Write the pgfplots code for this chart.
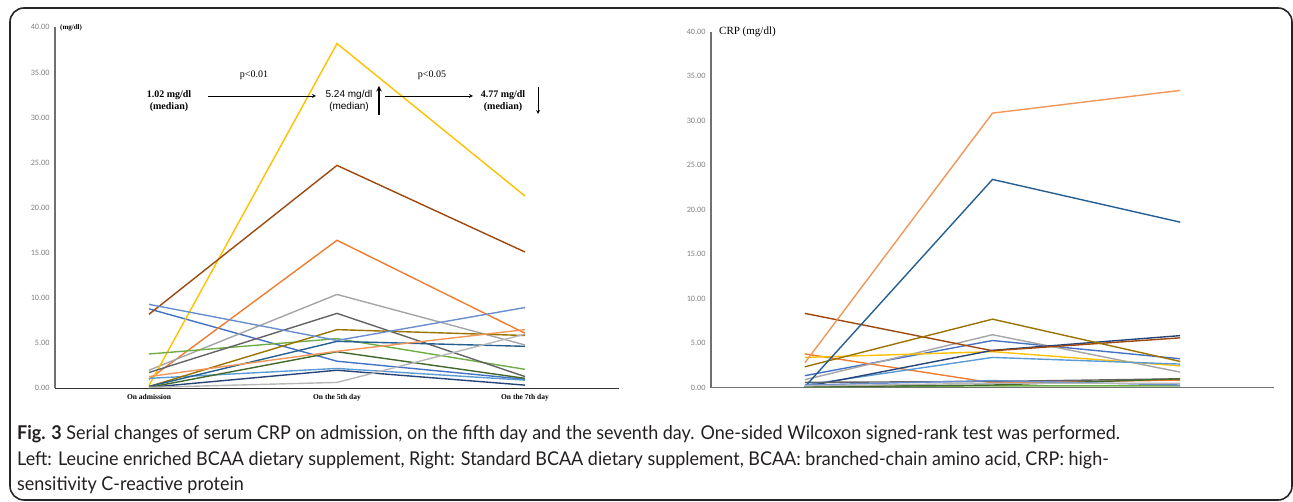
\documentclass[border=0pt]{standalone}
\usepackage{pgfplots}
\pgfplotsset{compat=1.18}
\usepackage{fontspec}
\setmainfont{Liberation Serif}
\newfontfamily\calfont{Carlito}
\newfontfamily\capfont[FakeStretch=0.945]{Lato}
\newfontfamily\arialfont{Liberation Sans}

\definecolor{c1}{HTML}{4472C4}
\definecolor{c2}{HTML}{ED7D31}
\definecolor{c3}{HTML}{A5A5A5}
\definecolor{c4}{HTML}{FFC000}
\definecolor{c5}{HTML}{5B9BD5}
\definecolor{c6}{HTML}{70AD47}
\definecolor{c7}{HTML}{264478}
\definecolor{c8}{HTML}{9E480E}
\definecolor{c9}{HTML}{636363}
\definecolor{c10}{HTML}{997300}
\definecolor{c11}{HTML}{255E91}
\definecolor{c12}{HTML}{43682B}
\definecolor{c13}{HTML}{698ED0}
\definecolor{c14}{HTML}{F1975A}
\definecolor{c15}{HTML}{B7B7B7}
\definecolor{ticktext}{HTML}{808080}
\definecolor{captext}{HTML}{231F20}
\definecolor{yline}{HTML}{707070}

\pgfplotsset{
  crpaxis/.style={
    scale only axis, anchor=south west,
    xmin=0, xmax=3, ymin=0, ymax=40,
    axis x line=bottom, axis y line=left,
    axis line style={-},
    every outer y axis line/.append style={draw=yline, line width=2pt},
    ytick={0,5,...,40},
    major tick length=0pt,
    yticklabel style={font=\calfont\fontsize{8.2}{9}\selectfont, text=ticktext, xshift=-2pt},
    /pgf/number format/.cd, fixed, fixed zerofill, precision=2, assume math mode=true,
    /pgfplots/.cd,
    every axis plot/.append style={line width=1.4pt, no markers},
  }
}

\begin{document}
\begin{tikzpicture}
\useasboundingbox (0pt,0pt) rectangle (1293pt,502pt);
\draw[line width=1.6pt, rounded corners=14pt, black!85] (10pt,2pt) rectangle (1292pt,494pt);

% left panel: leucine enriched BCAA
\begin{axis}[crpaxis, at={(55pt,113.7pt)}, width=564pt, height=361pt,
  every outer x axis line/.append style={draw=black!80, line width=1.4pt},
  xtick={0.5,1.5,2.5},
  xticklabels={On admission, On the 5th day, On the 7th day},
  xticklabel style={font=\bfseries\fontsize{7.5}{8}\selectfont, yshift=-2pt},
]
\addplot[c1]  coordinates {(0.5,8.8) (1.5,3.0) (2.5,1.0)};
\addplot[c2]  coordinates {(0.5,1.0) (1.5,16.4) (2.5,6.1)};
\addplot[c3]  coordinates {(0.5,2.0) (1.5,10.4) (2.5,4.8)};
\addplot[c4]  coordinates {(0.5,0.3) (1.5,38.2) (2.5,21.3)};
\addplot[c5]  coordinates {(0.5,1.1) (1.5,2.2) (2.5,0.9)};
\addplot[c6]  coordinates {(0.5,3.8) (1.5,5.5) (2.5,2.1)};
\addplot[c7]  coordinates {(0.5,0.1) (1.5,2.0) (2.5,0.35)};
\addplot[c8]  coordinates {(0.5,8.2) (1.5,24.7) (2.5,15.1)};
\addplot[c9]  coordinates {(0.5,1.75) (1.5,8.3) (2.5,1.3)};
\addplot[c10] coordinates {(0.5,0.2) (1.5,6.5) (2.5,5.85)};
\addplot[c11] coordinates {(0.5,0.2) (1.5,5.2) (2.5,4.65)};
\addplot[c12] coordinates {(0.5,0.1) (1.5,4.05) (2.5,1.1)};
\addplot[c13] coordinates {(0.5,9.3) (1.5,5.3) (2.5,8.95)};
\addplot[c14] coordinates {(0.5,1.3) (1.5,4.1) (2.5,6.5)};
\addplot[c15] coordinates {(0.5,0.1) (1.5,0.65) (2.5,6.0)};
\end{axis}

% right panel: standard BCAA
\begin{axis}[crpaxis, at={(711pt,114.3pt)}, width=563pt, height=356pt,
  every outer x axis line/.append style={draw=black!55, line width=1.6pt},
  xtick=\empty,
]
\addplot[c1]  coordinates {(0.5,1.35) (1.5,5.3) (2.5,3.25)};
\addplot[c2]  coordinates {(0.5,3.8) (1.5,0.55) (2.5,0.85)};
\addplot[c3]  coordinates {(0.5,0.9) (1.5,5.95) (2.5,1.75)};
\addplot[c4]  coordinates {(0.5,3.4) (1.5,4.05) (2.5,2.45)};
\addplot[c5]  coordinates {(0.5,0.3) (1.5,3.4) (2.5,2.65)};
\addplot[c6]  coordinates {(0.5,0.1) (1.5,0.2) (2.5,0.2)};
\addplot[c7]  coordinates {(0.5,0.1) (1.5,4.2) (2.5,5.85)};
\addplot[c8]  coordinates {(0.5,8.35) (1.5,4.15) (2.5,5.6)};
\addplot[c9]  coordinates {(0.5,0.6) (1.5,0.7) (2.5,1.0)};
\addplot[c10] coordinates {(0.5,2.35) (1.5,7.7) (2.5,2.95)};
\addplot[c11] coordinates {(0.5,0.1) (1.5,23.4) (2.5,18.6)};
\addplot[c12] coordinates {(0.5,0.1) (1.5,0.3) (2.5,1.0)};
\addplot[c13] coordinates {(0.5,0.3) (1.5,0.8) (2.5,0.3)};
\addplot[c14] coordinates {(0.5,2.8) (1.5,30.85) (2.5,33.4)};
\addplot[c15] coordinates {(0.5,0.2) (1.5,0.5) (2.5,0.5)};
\end{axis}

\begin{scope}[x=1pt, y=1pt]
% axis titles
\node[anchor=west, font=\bfseries\fontsize{7}{8}\selectfont, inner sep=0pt] at (60,474.3) {(mg/dl)};
\node[anchor=west, font=\fontsize{11}{12}\selectfont, inner sep=0pt] at (719,470) {CRP (mg/dl)};

% medians and tests (left panel)
\node[font=\fontsize{10}{12}\selectfont] at (254,427) {p<0.01};
\node[font=\fontsize{10}{12}\selectfont] at (432,427) {p<0.05};
\node[align=center, font=\bfseries\fontsize{10}{12}\selectfont] at (169,401) {1.02 mg/dl\\(median)};
\node[align=center, font=\arialfont\fontsize{10}{12}\selectfont] at (349,401) {5.24 mg/dl\\(median)};
\node[align=center, font=\bfseries\fontsize{10}{12}\selectfont] at (503,401) {4.77 mg/dl\\(median)};
\draw[-stealth, line width=0.8pt] (208,406) -- (316,406);
\draw[-stealth, line width=0.8pt] (385,406) -- (473,406);
\draw[-stealth, line width=1.4pt] (379,387) -- (379,416);
\draw[-stealth, line width=0.8pt] (538,415) -- (538,388);

% caption
\begin{scope}[every node/.style={anchor=base west, inner sep=0pt, text=captext, font=\capfont\fontsize{19}{22}\selectfont}]
\node at (17,62) {\textbf{Fig. 3} Serial changes of serum CRP on admission, on the fifth day and the seventh day. One-sided Wilcoxon signed-rank test was performed.};
\node at (17,36) {Left: Leucine enriched BCAA dietary supplement, Right: Standard BCAA dietary supplement, BCAA: branched-chain amino acid, CRP: high-};
\node at (17,11) {sensitivity C-reactive protein};
\end{scope}
\end{scope}
\end{tikzpicture}
\end{document}
